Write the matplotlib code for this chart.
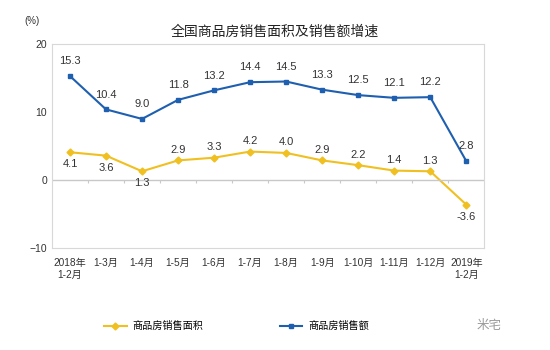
import numpy as np
import matplotlib
matplotlib.use("Agg")
import matplotlib.pyplot as plt

plt.rcParams['font.family'] = ['Liberation Sans', 'Noto Sans CJK SC', 'DejaVu Sans']

# 数据
months = ['2018年\n1-2月', '1-3月', '1-4月', '1-5月', '1-6月', '1-7月', '1-8月',
          '1-9月', '1-10月', '1-11月', '1-12月', '2019年\n1-2月']
area = [4.1, 3.6, 1.3, 2.9, 3.3, 4.2, 4.0, 2.9, 2.2, 1.4, 1.3, -3.6]
sales = [15.3, 10.4, 9.0, 11.8, 13.2, 14.4, 14.5, 13.3, 12.5, 12.1, 12.2, 2.8]
# 面积标签在点下方的位置
area_below = [0, 1, 2, 11]

blue = '#1F5FB0'
yellow = '#F0C020'

fig = plt.figure(figsize=(5.5, 3.5), dpi=100)
ax = fig.add_axes([0.0945, 0.291, 0.786, 0.583])

x = np.arange(len(months))
ax.plot(x, area, color=yellow, marker='D', markersize=3.5, linewidth=1.5,
        label='商品房销售面积')
ax.plot(x, sales, color=blue, marker='s', markersize=3.5, linewidth=1.5,
        label='商品房销售额')

for i, v in enumerate(sales):
    ax.annotate(f'{v:.1f}', (i, v), xytext=(0, 7), textcoords='offset points',
                ha='center', va='bottom', fontsize=8, color='#333333')
for i, v in enumerate(area):
    if i in area_below:
        ax.annotate(f'{v:.1f}', (i, v), xytext=(0, -5), textcoords='offset points',
                    ha='center', va='top', fontsize=8, color='#333333')
    else:
        ax.annotate(f'{v:.1f}', (i, v), xytext=(0, 4), textcoords='offset points',
                    ha='center', va='bottom', fontsize=8, color='#333333')

# 零线及分隔刻度
ax.axhline(0, color='#c8c8c8', linewidth=1)
ax.vlines(x[:-1] + 0.5, -0.45, 0, color='#c8c8c8', linewidth=0.8)

ax.set_xlim(-0.5, len(months) - 0.5)
ax.set_ylim(-10, 20)
ax.set_yticks([-10, 0, 10, 20])
ax.set_xticks(x)
ax.set_xticklabels(months, fontsize=7.3)
ax.tick_params(axis='both', length=0, labelsize=7.5, colors='#333333')
ax.tick_params(axis='x', pad=7, labelsize=7.3)
for s in ax.spines.values():
    s.set_color('#d8d8d8')
    s.set_linewidth(0.8)

fig.text(0.045, 0.94, '(%)', fontsize=7, color='#333333', ha='left', va='center')
fig.text(0.5, 0.908, '全国商品房销售面积及销售额增速', fontsize=10, color='#222222',
         ha='center', va='center')

fig.legend(loc='center', bbox_to_anchor=(0.43, 0.068), ncol=2, frameon=False,
           fontsize=7.3, columnspacing=7.5, handlelength=2.2, handletextpad=0.6)
fig.text(0.89, 0.068, '米宅', fontsize=9, color='#9a9a9a', ha='center', va='center')

fig.savefig('out.png', dpi=100)
